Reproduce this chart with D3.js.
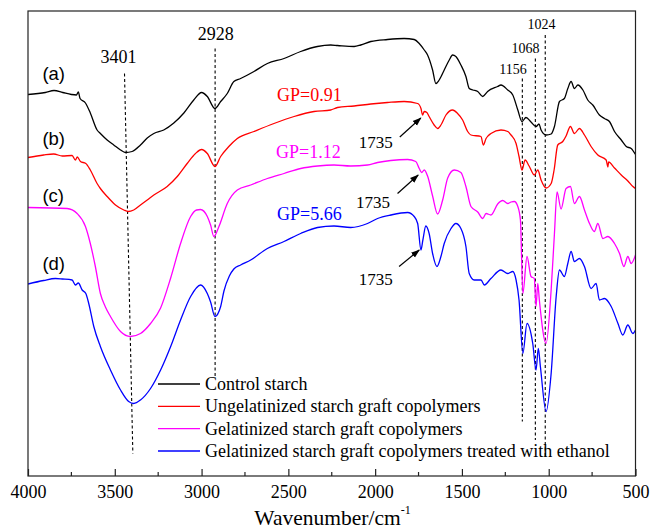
<!DOCTYPE html>
<html><head><meta charset="utf-8">
<script src="https://cdn.jsdelivr.net/npm/d3@7"></script>
<style>
html,body{margin:0;padding:0;background:#fff;}
svg{display:block;}
</style></head>
<body>
<svg id="chart" width="651" height="528"></svg>
<script>
// ---- data: [wavenumber (cm-1), transmittance (a.u.)] ----
const controlStarch = [[4000,76.3],[3900,76.7],[3850,77.1],[3800,76.7],[3750,76.3],[3721,76.2],[3710,76.8],[3700,75.5],[3669,74.6],[3641,72.6],[3602,69.2],[3583,68.5],[3544,67.2],[3506,66.2],[3467,65.2],[3439,64.7],[3400,64.9],[3352,66.2],[3313,67.6],[3275,68.5],[3218,69.2],[3160,70.6],[3102,72.6],[3045,75.2],[3000,76.7],[2967,75.9],[2923,73.5],[2890,74.9],[2852,76.5],[2814,78.9],[2775,79.5],[2698,80.9],[2621,82.5],[2525,83.5],[2429,84.9],[2333,85.9],[2256,86.2],[2217,86.1],[2121,85.9],[2083,86.2],[2025,86.9],[1929,87.3],[1833,87.5],[1775,87.3],[1746,86.5],[1717,85.2],[1698,84.2],[1669,81.2],[1650,78.5],[1631,79.2],[1602,81.2],[1573,83.2],[1554,84.2],[1535,83.9],[1506,82.2],[1477,79.9],[1458,77.5],[1437,77.2],[1409,76.9],[1380,75.9],[1352,76.9],[1294,77.9],[1275,78.2],[1236,77.2],[1207,76.2],[1178,73.2],[1154,70.9],[1131,71.7],[1102,70.8],[1073,69.9],[1056,70.4],[1044,69.2],[1015,68.2],[986,68.4],[967,69.9],[938,74.9],[910,75.5],[890,77.5],[871,78.9],[852,77.5],[832,78.2],[803,77.2],[775,75.2],[746,74.2],[708,72.2],[679,71.5],[650,70.9],[621,68.9],[582,67.2],[553,65.9],[525,65.5],[500,64.3]];

const ungelatinized = [[4000,63.7],[3910,64.2],[3852,64.4],[3802,64.0],[3746,64.1],[3727,63.2],[3716,63.8],[3698,62.9],[3667,62.5],[3641,61.2],[3602,58.5],[3583,57.5],[3544,55.9],[3496,54.2],[3448,53.2],[3423,52.9],[3391,53.2],[3352,54.2],[3313,55.2],[3275,56.2],[3198,57.9],[3140,59.9],[3083,62.5],[3035,64.5],[3000,65.3],[2967,64.5],[2923,61.9],[2890,63.9],[2843,65.9],[2794,67.5],[2698,68.9],[2583,70.5],[2467,71.9],[2352,72.9],[2256,73.2],[2217,73.7],[2121,74.0],[2025,74.4],[1929,74.7],[1833,74.9],[1755,74.5],[1736,73.5],[1727,72.2],[1717,72.9],[1702,72.7],[1689,71.9],[1660,70.2],[1640,69.5],[1621,70.2],[1592,72.2],[1554,73.2],[1525,72.5],[1496,71.2],[1467,68.9],[1448,68.2],[1390,67.9],[1377,66.2],[1361,67.5],[1333,68.5],[1275,69.2],[1236,68.9],[1217,68.2],[1188,66.5],[1171,63.9],[1154,61.2],[1136,63.2],[1113,62.0],[1083,60.2],[1063,61.2],[1044,59.2],[1015,57.6],[986,58.5],[969,61.2],[948,66.2],[919,66.9],[900,68.0],[875,69.9],[852,68.5],[823,69.5],[794,68.2],[756,65.9],[717,64.2],[669,63.2],[659,61.8],[655,62.8],[621,61.6],[582,60.2],[544,59.0],[515,57.9],[500,57.5]];

const gelatinized = [[4000,53.7],[3775,53.5],[3717,52.5],[3669,49.9],[3641,46.5],[3612,41.9],[3583,36.5],[3554,33.8],[3525,31.9],[3467,28.9],[3410,27.9],[3352,28.5],[3294,30.5],[3236,33.6],[3178,39.6],[3121,46.5],[3063,51.9],[3029,53.2],[3006,53.3],[2967,51.9],[2948,50.2],[2929,47.9],[2900,49.9],[2852,54.5],[2794,57.2],[2717,58.2],[2621,59.5],[2525,60.5],[2429,61.5],[2332,62.0],[2237,62.2],[2141,62.0],[2044,62.2],[1986,62.7],[1910,63.1],[1813,63.3],[1766,62.9],[1746,61.5],[1732,60.7],[1717,61.2],[1698,60.0],[1669,56.0],[1640,52.4],[1611,55.2],[1582,59.6],[1544,61.2],[1506,60.7],[1477,57.9],[1448,53.9],[1409,52.8],[1380,51.5],[1361,52.5],[1333,52.2],[1294,54.4],[1265,55.1],[1236,54.5],[1217,54.8],[1198,54.9],[1178,53.9],[1163,51.2],[1149,36.5],[1125,43.9],[1102,39.9],[1083,39.5],[1073,33.9],[1063,38.5],[1054,35.2],[1015,26.5],[986,37.2],[967,48.5],[952,56.8],[929,53.4],[900,57.5],[875,57.9],[852,54.5],[823,55.9],[794,53.2],[765,50.5],[737,48.9],[717,50.5],[688,47.5],[659,47.9],[621,46.5],[592,44.5],[567,41.9],[544,43.9],[525,42.5],[500,44.2]];

const ethanolTreated = [[4000,38.4],[3910,39.1],[3842,39.5],[3802,39.4],[3746,39.2],[3727,38.2],[3710,38.6],[3688,37.2],[3667,36.5],[3650,34.5],[3621,29.9],[3583,25.9],[3525,21.2],[3467,17.2],[3420,14.9],[3391,14.5],[3352,15.2],[3294,17.5],[3236,21.2],[3178,25.9],[3121,31.2],[3063,35.9],[3006,38.2],[2967,36.5],[2948,34.8],[2923,31.9],[2890,33.9],[2871,37.0],[2840,40.0],[2814,41.4],[2775,42.2],[2717,43.2],[2621,45.5],[2525,46.9],[2429,48.5],[2332,49.7],[2237,50.0],[2141,49.7],[2044,50.5],[1986,51.5],[1910,52.2],[1813,52.7],[1775,51.9],[1755,50.5],[1736,45.2],[1725,47.2],[1708,50.0],[1689,48.5],[1669,44.5],[1644,41.9],[1621,43.9],[1602,46.5],[1563,49.5],[1535,50.5],[1506,49.5],[1477,45.9],[1458,40.5],[1429,39.2],[1390,39.2],[1371,38.2],[1333,39.5],[1275,41.2],[1236,40.5],[1207,40.9],[1188,39.2],[1171,35.2],[1149,24.5],[1125,30.5],[1092,26.5],[1073,21.2],[1060,25.5],[1048,21.9],[1015,12.9],[986,20.5],[957,35.9],[938,41.2],[910,39.9],[890,42.5],[871,44.9],[852,42.9],[823,43.5],[794,41.9],[756,37.5],[727,38.5],[708,35.2],[679,35.5],[640,33.9],[601,30.5],[573,28.2],[544,30.2],[515,28.5],[500,29.2]];

const seriesNames = ["Control starch","Ungelatinized starch graft copolymers","Gelatinized starch graft copolymers","Gelatinized starch graft copolymers treated with ethanol"];
const seriesColors = ["#000000","#ff0000","#ff00ff","#0000ff"];
const curveTags = ["(a)","(b)","(c)","(d)"];
const curveTagPos = [[3917,79.2],[3917,66.2],[3917,54.8],[3917,41.2]];
const xMajorTicks = [4000,3500,3000,2500,2000,1500,1000,500];
const xMinorTicks = [3750,3250,2750,2250,1750,1250,750];

// annotations in data coordinates
const peakLines = [
  {label:"3401", top:[3444,80.5], bottom:[3396,4.5], text:[3479,82.6]},
  {label:"2928", top:[2922,85.5], bottom:[2922,19.9], text:[2919,87.2]},
  {label:"1156", top:[1152,79.5], bottom:[1152,10.9], text:[1206,80.4]},
  {label:"1068", top:[1077,83.5], bottom:[1077,7.2], text:[1134,84.6]},
  {label:"1024", top:[1020,88.2], bottom:[1020,3.5], text:[1041,89.4]}
];
const gpLabels = [
  {text:"GP=0.91", pos:[2565,75.0], color:1},
  {text:"GP=1.12", pos:[2571,63.6], color:2},
  {text:"GP=5.66", pos:[2565,51.2], color:3}
];
const arrows1735 = [
  {text:[2095,65.6], from:[1858,67.8], to:[1737,71.6]},
  {text:[2110,53.6], from:[1871,56.5], to:[1752,60.2]},
  {text:[2095,38.2], from:[1862,41.9], to:[1746,45.2]}
];

// ---- layout ----
const L = 28, R = 635.5, T = 11, B = 476;
const svg = d3.select("#chart");
const x = d3.scaleLinear().domain([4000,500]).range([L,R]);
const y = d3.scaleLinear().domain([0,93]).range([B,T]);
const serif = "'Liberation Serif','Times New Roman',serif";
const sans = "'Liberation Sans',Arial,sans-serif";

const defs = svg.append("defs");
defs.append("marker").attr("id","ah").attr("viewBox","0 0 10 10").attr("refX",9).attr("refY",5)
  .attr("markerWidth",9).attr("markerHeight",9).attr("markerUnits","userSpaceOnUse").attr("orient","auto")
  .append("path").attr("d","M0,1.5 L10,5 L0,8.5 Z").attr("fill","#000");
defs.append("clipPath").attr("id","clip").append("rect").attr("x",L).attr("y",T).attr("width",R-L).attr("height",B-T);

// dashed peak lines
svg.append("g").selectAll("line").data(peakLines).join("line")
  .attr("x1",d=>x(d.top[0])).attr("y1",d=>y(d.top[1]))
  .attr("x2",d=>x(d.bottom[0])).attr("y2",d=>y(d.bottom[1]))
  .attr("stroke","#000").attr("stroke-width",1.1).attr("stroke-dasharray","3,2.5");

// curves
const line = d3.line().x(d=>x(d[0])).y(d=>y(d[1])).curve(d3.curveMonotoneX);
const allSeries = [controlStarch, ungelatinized, gelatinized, ethanolTreated];
svg.append("g").attr("clip-path","url(#clip)").selectAll("path").data(allSeries).join("path")
  .attr("d",d=>line(d.slice().sort((a,b)=>a[0]-b[0])))
  .attr("fill","none").attr("stroke",(d,i)=>seriesColors[i]).attr("stroke-width",1.3)
  .attr("stroke-linejoin","round");

// frame
svg.append("rect").attr("x",L).attr("y",T).attr("width",R-L).attr("height",B-T)
  .attr("fill","none").attr("stroke","#222").attr("stroke-width",1.2);

// axis
const ax = svg.append("g").attr("transform",`translate(0,${B})`)
  .call(d3.axisBottom(x).tickValues(xMajorTicks).tickSize(-7).tickPadding(9).tickFormat(d3.format("d")));
ax.select(".domain").remove();
ax.selectAll("text").attr("font-family",serif).attr("font-size",18).attr("fill","#000");
ax.selectAll("line").attr("stroke","#222").attr("stroke-width",1.2);
svg.append("g").selectAll("line").data(xMinorTicks).join("line")
  .attr("x1",d=>x(d)).attr("x2",d=>x(d)).attr("y1",B).attr("y2",B-4)
  .attr("stroke","#222").attr("stroke-width",1.2);

// axis title
const title = svg.append("text").attr("x",332.5).attr("y",524.5).attr("text-anchor","middle")
  .attr("font-family",serif).attr("font-size",21.5).attr("fill","#000");
title.append("tspan").text("Wavenumber/cm");
title.append("tspan").attr("dy",-11).attr("font-size",12).text("-1");

// curve tags
svg.append("g").selectAll("text").data(curveTags).join("text")
  .attr("x",(d,i)=>x(curveTagPos[i][0])).attr("y",(d,i)=>y(curveTagPos[i][1]))
  .attr("font-family",sans).attr("font-size",18.5).attr("fill","#000").text(d=>d);

// peak labels
svg.append("g").selectAll("text").data(peakLines).join("text")
  .attr("x",d=>x(d.text[0])).attr("y",d=>y(d.text[1])).attr("text-anchor","middle")
  .attr("font-family",serif).attr("font-size",d=>d.label==="3401"||d.label==="2928"?18:14)
  .attr("fill","#000").text(d=>d.label);

// GP labels
svg.append("g").selectAll("text").data(gpLabels).join("text")
  .attr("x",d=>x(d.pos[0])).attr("y",d=>y(d.pos[1]))
  .attr("font-family",serif).attr("font-size",18).attr("fill",d=>seriesColors[d.color]).text(d=>d.text);

// 1735 arrows
const ag = svg.append("g");
ag.selectAll("line").data(arrows1735).join("line")
  .attr("x1",d=>x(d.from[0])).attr("y1",d=>y(d.from[1]))
  .attr("x2",d=>x(d.to[0])).attr("y2",d=>y(d.to[1]))
  .attr("stroke","#000").attr("stroke-width",1.2).attr("marker-end","url(#ah)");
ag.selectAll("text").data(arrows1735).join("text")
  .attr("x",d=>x(d.text[0])).attr("y",d=>y(d.text[1]))
  .attr("font-family",serif).attr("font-size",17).attr("fill","#000").text("1735");

// legend
const legRows = [384, 406.3, 428.6, 451];
const lg = svg.append("g");
seriesNames.forEach((name,i)=>{
  lg.append("line").attr("x1",158).attr("x2",200).attr("y1",legRows[i]).attr("y2",legRows[i])
    .attr("stroke",seriesColors[i]).attr("stroke-width",1.3);
  lg.append("text").attr("x",205).attr("y",legRows[i]).attr("dy","0.33em")
    .attr("font-family",serif).attr("font-size",18).attr("fill","#000").text(name);
});
</script>
</body></html>
